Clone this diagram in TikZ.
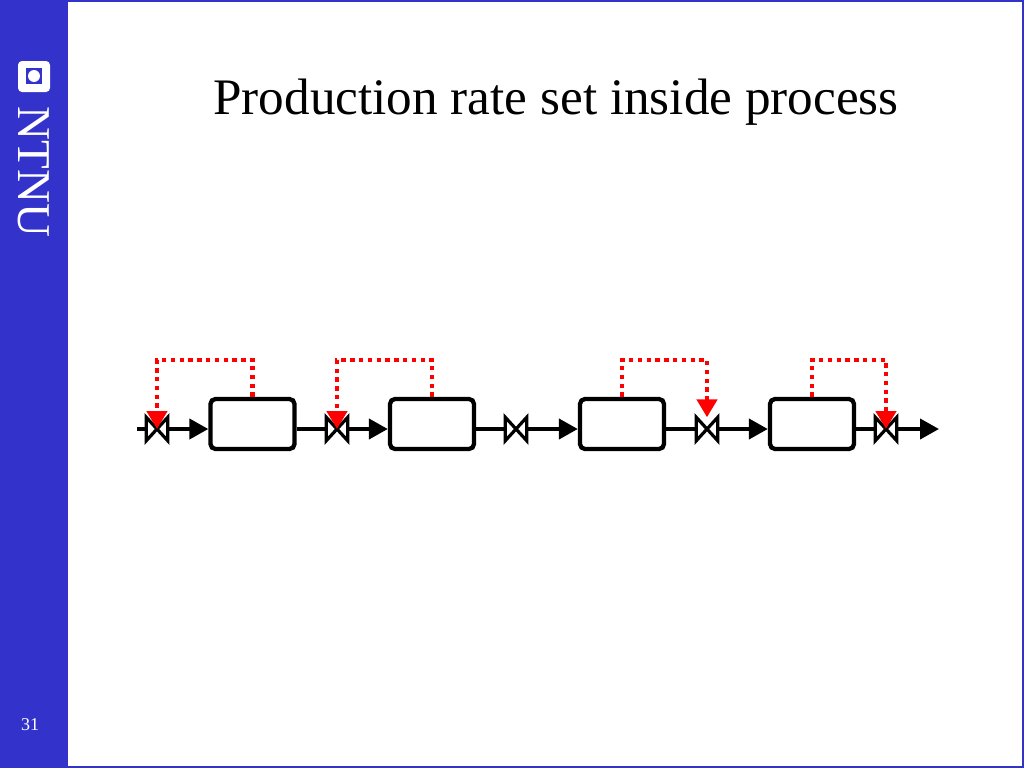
\documentclass[tikz,border=0pt]{standalone}
\usepackage{fontspec}
\setmainfont{Liberation Serif}
\usetikzlibrary{arrows.meta}
\definecolor{ntnublue}{HTML}{3333CC}
\tikzset{
  tank/.style={draw=black,line width=4.3pt,rounded corners=5pt,minimum width=84pt,minimum height=50pt,inner sep=0pt},
  valve/.style={minimum width=21pt,minimum height=23pt,inner sep=0pt},
  flow/.style={line width=4pt,black},
  flowarrow/.style={flow,-{Triangle[length=19pt,width=20pt]}},
  ctrl/.style={red,line width=4.4pt,dash pattern=on 4.4pt off 4.4pt,-{Triangle[length=18pt,width=20pt]}}
}
\begin{document}
\begin{tikzpicture}[x=1pt,y=-1pt]
\useasboundingbox (0,0) rectangle (1024,768);
% slide frame and side bar
\fill[white] (0,0) rectangle (1024,768);
\draw[ntnublue,line width=2pt] (0,1) -- (1023,1) -- (1023,767) -- (0,767);
\fill[ntnublue] (0,0) rectangle (68,768);
\fill[white,rounded corners=4pt] (18,61) rectangle (50,92);
\fill[ntnublue] (26,68) rectangle (42,84);
\fill[white] (34,76) circle (6);
\node (logotext) [white,rotate=-90,font=\fontsize{47}{47}\selectfont,inner sep=0pt] at (34,172) {NTNU};
\node (pagenr) [white,font=\fontsize{18}{18}\selectfont,inner sep=0pt] at (30,725) {31};
\node (title) [font=\fontsize{51.2}{51.2}\selectfont,inner sep=0pt] at (556,102) {Production rate set inside process};
% tanks
\node (b1) [tank] at (252.5,424) {};
\node (b2) [tank] at (432,424) {};
\node (b3) [tank] at (622,424) {};
\node (b4) [tank] at (812,424) {};
% valves
\node (v1) [valve] at (157,429) {};
\node (v2) [valve] at (337,429) {};
\node (v3) [valve] at (516,429) {};
\node (v4) [valve] at (707,429) {};
\node (v5) [valve] at (886,429) {};
\coordinate (in) at (137,429);
\coordinate (out) at (939,429);
% main flow
\draw[flow] (in) -- (v1.west);
\foreach \v/\b in {1/1,2/2,3/3,4/4}
   \draw[flowarrow] (v\v.east) -- (v\v.east -| b\b.west);
\foreach \b/\v in {1/2,2/3,3/4,4/5}
   \draw[flow] (v\v.west -| b\b.east) -- (v\v.west);
\draw[flowarrow] (v5.east) -- (out);
\foreach \v in {1,2,3,4,5}
   \draw[black,line width=3.2pt,fill=white,line join=miter] (v\v.north west) -- (v\v.south east) -- (v\v.north east) -- (v\v.south west) -- cycle;
% control loops
\draw[ctrl] (b1.north) -- ++(0,-37) -| (v1.center);
\draw[ctrl] (b2.north) -- ++(0,-37) -| (v2.center);
\draw[ctrl] (b3.north) -- ++(0,-37) -| (v4.north);
\draw[ctrl] (b4.north) -- ++(0,-37) -| (v5.center);
\end{tikzpicture}
\end{document}
